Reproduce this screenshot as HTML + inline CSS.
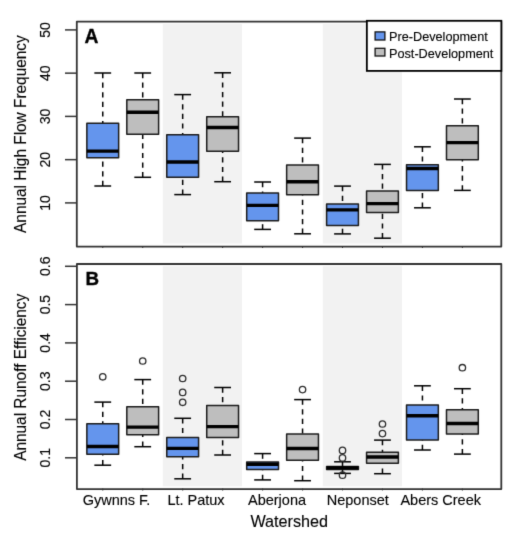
<!DOCTYPE html>
<html><head><meta charset="utf-8"><style>
html,body{margin:0;padding:0;background:#fff;width:520px;height:543px;overflow:hidden}
svg{display:block}
.wrap{width:520px;height:543px;will-change:transform}
</style></head><body><div class="wrap">
<svg width="520" height="543" viewBox="0 0 520 543" font-family='"Liberation Sans", sans-serif'>
<style>text{stroke:#000;stroke-width:0.12px;}</style>
<defs><filter id="bl" x="0" y="0" width="520" height="543" filterUnits="userSpaceOnUse" color-interpolation-filters="sRGB"><feConvolveMatrix order="3" kernelMatrix="0.01134 0.08382 0.01134 0.08382 0.61935 0.08382 0.01134 0.08382 0.01134" edgeMode="duplicate" preserveAlpha="true"/></filter></defs>
<g filter="url(#bl)">
<rect width="520" height="543" fill="#fff"/>
<!-- shading -->
<rect x="162.8" y="24" width="79.2" height="219.5" fill="#F2F2F2"/>
<rect x="322.8" y="24" width="79.2" height="219.5" fill="#F2F2F2"/>
<rect x="162.8" y="266.2" width="79.2" height="220.1" fill="#F2F2F2"/>
<rect x="322.8" y="266.2" width="79.2" height="220.1" fill="#F2F2F2"/>
<!-- panel A -->
<line x1="102.75" y1="73.00" x2="102.75" y2="123.35" stroke="#000" stroke-width="1.5" stroke-dasharray="5.2 4.4"/>
<line x1="102.75" y1="186.00" x2="102.75" y2="157.65" stroke="#000" stroke-width="1.5" stroke-dasharray="5.2 4.4"/>
<line x1="94.35" y1="73.00" x2="111.15" y2="73.00" stroke="#000" stroke-width="1.5"/>
<line x1="94.35" y1="186.00" x2="111.15" y2="186.00" stroke="#000" stroke-width="1.5"/>
<rect x="86.85" y="123.35" width="31.80" height="34.30" fill="#6495ED" stroke="#1c1c1c" stroke-width="1.5" stroke-linejoin="round"/>
<line x1="86.85" y1="151.10" x2="118.65" y2="151.10" stroke="#000" stroke-width="3.4"/>
<line x1="142.71" y1="73.00" x2="142.71" y2="99.85" stroke="#000" stroke-width="1.5" stroke-dasharray="5.2 4.4"/>
<line x1="142.71" y1="177.30" x2="142.71" y2="134.15" stroke="#000" stroke-width="1.5" stroke-dasharray="5.2 4.4"/>
<line x1="134.31" y1="73.00" x2="151.11" y2="73.00" stroke="#000" stroke-width="1.5"/>
<line x1="134.31" y1="177.30" x2="151.11" y2="177.30" stroke="#000" stroke-width="1.5"/>
<rect x="126.81" y="99.85" width="31.80" height="34.30" fill="#BEBEBE" stroke="#1c1c1c" stroke-width="1.5" stroke-linejoin="round"/>
<line x1="126.81" y1="112.30" x2="158.61" y2="112.30" stroke="#000" stroke-width="3.4"/>
<line x1="182.67" y1="94.60" x2="182.67" y2="134.65" stroke="#000" stroke-width="1.5" stroke-dasharray="5.2 4.4"/>
<line x1="182.67" y1="194.60" x2="182.67" y2="177.25" stroke="#000" stroke-width="1.5" stroke-dasharray="5.2 4.4"/>
<line x1="174.27" y1="94.60" x2="191.07" y2="94.60" stroke="#000" stroke-width="1.5"/>
<line x1="174.27" y1="194.60" x2="191.07" y2="194.60" stroke="#000" stroke-width="1.5"/>
<rect x="166.77" y="134.65" width="31.80" height="42.60" fill="#6495ED" stroke="#1c1c1c" stroke-width="1.5" stroke-linejoin="round"/>
<line x1="166.77" y1="162.00" x2="198.57" y2="162.00" stroke="#000" stroke-width="3.4"/>
<line x1="222.63" y1="72.80" x2="222.63" y2="116.75" stroke="#000" stroke-width="1.5" stroke-dasharray="5.2 4.4"/>
<line x1="222.63" y1="181.70" x2="222.63" y2="151.25" stroke="#000" stroke-width="1.5" stroke-dasharray="5.2 4.4"/>
<line x1="214.23" y1="72.80" x2="231.03" y2="72.80" stroke="#000" stroke-width="1.5"/>
<line x1="214.23" y1="181.70" x2="231.03" y2="181.70" stroke="#000" stroke-width="1.5"/>
<rect x="206.73" y="116.75" width="31.80" height="34.50" fill="#BEBEBE" stroke="#1c1c1c" stroke-width="1.5" stroke-linejoin="round"/>
<line x1="206.73" y1="127.50" x2="238.53" y2="127.50" stroke="#000" stroke-width="3.4"/>
<line x1="262.59" y1="182.00" x2="262.59" y2="193.05" stroke="#000" stroke-width="1.5" stroke-dasharray="5.2 4.4"/>
<line x1="262.59" y1="229.40" x2="262.59" y2="220.65" stroke="#000" stroke-width="1.5" stroke-dasharray="5.2 4.4"/>
<line x1="254.19" y1="182.00" x2="270.99" y2="182.00" stroke="#000" stroke-width="1.5"/>
<line x1="254.19" y1="229.40" x2="270.99" y2="229.40" stroke="#000" stroke-width="1.5"/>
<rect x="246.69" y="193.05" width="31.80" height="27.60" fill="#6495ED" stroke="#1c1c1c" stroke-width="1.5" stroke-linejoin="round"/>
<line x1="246.69" y1="205.40" x2="278.49" y2="205.40" stroke="#000" stroke-width="3.4"/>
<line x1="302.55" y1="138.10" x2="302.55" y2="164.95" stroke="#000" stroke-width="1.5" stroke-dasharray="5.2 4.4"/>
<line x1="302.55" y1="233.80" x2="302.55" y2="194.65" stroke="#000" stroke-width="1.5" stroke-dasharray="5.2 4.4"/>
<line x1="294.15" y1="138.10" x2="310.95" y2="138.10" stroke="#000" stroke-width="1.5"/>
<line x1="294.15" y1="233.80" x2="310.95" y2="233.80" stroke="#000" stroke-width="1.5"/>
<rect x="286.65" y="164.95" width="31.80" height="29.70" fill="#BEBEBE" stroke="#1c1c1c" stroke-width="1.5" stroke-linejoin="round"/>
<line x1="286.65" y1="181.80" x2="318.45" y2="181.80" stroke="#000" stroke-width="3.4"/>
<line x1="342.51" y1="186.10" x2="342.51" y2="204.05" stroke="#000" stroke-width="1.5" stroke-dasharray="5.2 4.4"/>
<line x1="342.51" y1="233.90" x2="342.51" y2="225.45" stroke="#000" stroke-width="1.5" stroke-dasharray="5.2 4.4"/>
<line x1="334.11" y1="186.10" x2="350.91" y2="186.10" stroke="#000" stroke-width="1.5"/>
<line x1="334.11" y1="233.90" x2="350.91" y2="233.90" stroke="#000" stroke-width="1.5"/>
<rect x="326.61" y="204.05" width="31.80" height="21.40" fill="#6495ED" stroke="#1c1c1c" stroke-width="1.5" stroke-linejoin="round"/>
<line x1="326.61" y1="209.90" x2="358.41" y2="209.90" stroke="#000" stroke-width="3.4"/>
<line x1="382.47" y1="164.40" x2="382.47" y2="191.05" stroke="#000" stroke-width="1.5" stroke-dasharray="5.2 4.4"/>
<line x1="382.47" y1="238.20" x2="382.47" y2="212.45" stroke="#000" stroke-width="1.5" stroke-dasharray="5.2 4.4"/>
<line x1="374.07" y1="164.40" x2="390.87" y2="164.40" stroke="#000" stroke-width="1.5"/>
<line x1="374.07" y1="238.20" x2="390.87" y2="238.20" stroke="#000" stroke-width="1.5"/>
<rect x="366.57" y="191.05" width="31.80" height="21.40" fill="#BEBEBE" stroke="#1c1c1c" stroke-width="1.5" stroke-linejoin="round"/>
<line x1="366.57" y1="203.60" x2="398.37" y2="203.60" stroke="#000" stroke-width="3.4"/>
<line x1="422.43" y1="146.80" x2="422.43" y2="164.75" stroke="#000" stroke-width="1.5" stroke-dasharray="5.2 4.4"/>
<line x1="422.43" y1="207.80" x2="422.43" y2="190.45" stroke="#000" stroke-width="1.5" stroke-dasharray="5.2 4.4"/>
<line x1="414.03" y1="146.80" x2="430.83" y2="146.80" stroke="#000" stroke-width="1.5"/>
<line x1="414.03" y1="207.80" x2="430.83" y2="207.80" stroke="#000" stroke-width="1.5"/>
<rect x="406.53" y="164.75" width="31.80" height="25.70" fill="#6495ED" stroke="#1c1c1c" stroke-width="1.5" stroke-linejoin="round"/>
<line x1="406.53" y1="168.50" x2="438.33" y2="168.50" stroke="#000" stroke-width="3.4"/>
<line x1="462.39" y1="99.00" x2="462.39" y2="125.65" stroke="#000" stroke-width="1.5" stroke-dasharray="5.2 4.4"/>
<line x1="462.39" y1="190.40" x2="462.39" y2="159.65" stroke="#000" stroke-width="1.5" stroke-dasharray="5.2 4.4"/>
<line x1="453.99" y1="99.00" x2="470.79" y2="99.00" stroke="#000" stroke-width="1.5"/>
<line x1="453.99" y1="190.40" x2="470.79" y2="190.40" stroke="#000" stroke-width="1.5"/>
<rect x="446.49" y="125.65" width="31.80" height="34.00" fill="#BEBEBE" stroke="#1c1c1c" stroke-width="1.5" stroke-linejoin="round"/>
<line x1="446.49" y1="142.60" x2="478.29" y2="142.60" stroke="#000" stroke-width="3.4"/>
<rect x="76.8" y="21.6" width="424.5" height="225" fill="none" stroke="#333" stroke-width="1.8" stroke-linejoin="round"/>
<line x1="65" y1="202.90" x2="77" y2="202.90" stroke="#333" stroke-width="1.5"/>
<text transform="translate(49.7 202.90) rotate(-90)" text-anchor="middle" font-size="14">10</text>
<line x1="65" y1="159.65" x2="77" y2="159.65" stroke="#333" stroke-width="1.5"/>
<text transform="translate(49.7 159.65) rotate(-90)" text-anchor="middle" font-size="14">20</text>
<line x1="65" y1="116.40" x2="77" y2="116.40" stroke="#333" stroke-width="1.5"/>
<text transform="translate(49.7 116.40) rotate(-90)" text-anchor="middle" font-size="14">30</text>
<line x1="65" y1="73.15" x2="77" y2="73.15" stroke="#333" stroke-width="1.5"/>
<text transform="translate(49.7 73.15) rotate(-90)" text-anchor="middle" font-size="14">40</text>
<line x1="65" y1="29.90" x2="77" y2="29.90" stroke="#333" stroke-width="1.5"/>
<text transform="translate(49.7 29.90) rotate(-90)" text-anchor="middle" font-size="14">50</text>
<text transform="translate(25.6 134.10) rotate(-90) scale(1 1.07)" text-anchor="middle" font-size="15.4">Annual High Flow Frequency</text>
<text x="84.4" y="42.9" font-size="19.3" font-weight="bold" style="stroke-width:0.35px">A</text>
<!-- legend -->
<rect x="366.85" y="20.8" width="134.5" height="50.1" fill="#fff" stroke="#000" stroke-width="1.8"/>
<rect x="375.1" y="31.9" width="9.8" height="8.1" fill="#6495ED" stroke="#111" stroke-width="1.3"/>
<rect x="375.1" y="48.3" width="9.8" height="7.7" fill="#BEBEBE" stroke="#111" stroke-width="1.3"/>
<text x="389.0" y="40.7" font-size="12.7">Pre-Development</text>
<text x="389.0" y="57.5" font-size="12.7">Post-Development</text>
<!-- panel B -->
<line x1="102.75" y1="402.10" x2="102.75" y2="423.85" stroke="#000" stroke-width="1.5" stroke-dasharray="5.2 4.4"/>
<line x1="102.75" y1="465.20" x2="102.75" y2="454.25" stroke="#000" stroke-width="1.5" stroke-dasharray="5.2 4.4"/>
<line x1="94.35" y1="402.10" x2="111.15" y2="402.10" stroke="#000" stroke-width="1.5"/>
<line x1="94.35" y1="465.20" x2="111.15" y2="465.20" stroke="#000" stroke-width="1.5"/>
<rect x="86.85" y="423.85" width="31.80" height="30.40" fill="#6495ED" stroke="#1c1c1c" stroke-width="1.5" stroke-linejoin="round"/>
<line x1="86.85" y1="446.50" x2="118.65" y2="446.50" stroke="#000" stroke-width="3.4"/>
<circle cx="102.75" cy="376.80" r="3.2" fill="none" stroke="#2a2a2a" stroke-width="1.3"/>
<line x1="142.71" y1="379.60" x2="142.71" y2="406.65" stroke="#000" stroke-width="1.5" stroke-dasharray="5.2 4.4"/>
<line x1="142.71" y1="446.70" x2="142.71" y2="434.65" stroke="#000" stroke-width="1.5" stroke-dasharray="5.2 4.4"/>
<line x1="134.31" y1="379.60" x2="151.11" y2="379.60" stroke="#000" stroke-width="1.5"/>
<line x1="134.31" y1="446.70" x2="151.11" y2="446.70" stroke="#000" stroke-width="1.5"/>
<rect x="126.81" y="406.65" width="31.80" height="28.00" fill="#BEBEBE" stroke="#1c1c1c" stroke-width="1.5" stroke-linejoin="round"/>
<line x1="126.81" y1="427.10" x2="158.61" y2="427.10" stroke="#000" stroke-width="3.4"/>
<circle cx="142.71" cy="361.00" r="3.2" fill="none" stroke="#2a2a2a" stroke-width="1.3"/>
<line x1="182.67" y1="418.30" x2="182.67" y2="437.45" stroke="#000" stroke-width="1.5" stroke-dasharray="5.2 4.4"/>
<line x1="182.67" y1="478.80" x2="182.67" y2="456.65" stroke="#000" stroke-width="1.5" stroke-dasharray="5.2 4.4"/>
<line x1="174.27" y1="418.30" x2="191.07" y2="418.30" stroke="#000" stroke-width="1.5"/>
<line x1="174.27" y1="478.80" x2="191.07" y2="478.80" stroke="#000" stroke-width="1.5"/>
<rect x="166.77" y="437.45" width="31.80" height="19.20" fill="#6495ED" stroke="#1c1c1c" stroke-width="1.5" stroke-linejoin="round"/>
<line x1="166.77" y1="448.40" x2="198.57" y2="448.40" stroke="#000" stroke-width="3.4"/>
<circle cx="182.67" cy="378.50" r="3.2" fill="none" stroke="#2a2a2a" stroke-width="1.3"/>
<circle cx="182.67" cy="392.40" r="3.2" fill="none" stroke="#2a2a2a" stroke-width="1.3"/>
<circle cx="182.67" cy="402.30" r="3.2" fill="none" stroke="#2a2a2a" stroke-width="1.3"/>
<line x1="222.63" y1="387.50" x2="222.63" y2="405.55" stroke="#000" stroke-width="1.5" stroke-dasharray="5.2 4.4"/>
<line x1="222.63" y1="455.00" x2="222.63" y2="437.55" stroke="#000" stroke-width="1.5" stroke-dasharray="5.2 4.4"/>
<line x1="214.23" y1="387.50" x2="231.03" y2="387.50" stroke="#000" stroke-width="1.5"/>
<line x1="214.23" y1="455.00" x2="231.03" y2="455.00" stroke="#000" stroke-width="1.5"/>
<rect x="206.73" y="405.55" width="31.80" height="32.00" fill="#BEBEBE" stroke="#1c1c1c" stroke-width="1.5" stroke-linejoin="round"/>
<line x1="206.73" y1="426.60" x2="238.53" y2="426.60" stroke="#000" stroke-width="3.4"/>
<line x1="262.59" y1="453.60" x2="262.59" y2="462.05" stroke="#000" stroke-width="1.5" stroke-dasharray="5.2 4.4"/>
<line x1="262.59" y1="479.90" x2="262.59" y2="469.45" stroke="#000" stroke-width="1.5" stroke-dasharray="5.2 4.4"/>
<line x1="254.19" y1="453.60" x2="270.99" y2="453.60" stroke="#000" stroke-width="1.5"/>
<line x1="254.19" y1="479.90" x2="270.99" y2="479.90" stroke="#000" stroke-width="1.5"/>
<rect x="246.69" y="462.05" width="31.80" height="7.40" fill="#6495ED" stroke="#1c1c1c" stroke-width="1.5" stroke-linejoin="round"/>
<line x1="246.69" y1="464.20" x2="278.49" y2="464.20" stroke="#000" stroke-width="3.4"/>
<line x1="302.55" y1="399.60" x2="302.55" y2="433.95" stroke="#000" stroke-width="1.5" stroke-dasharray="5.2 4.4"/>
<line x1="302.55" y1="480.70" x2="302.55" y2="460.25" stroke="#000" stroke-width="1.5" stroke-dasharray="5.2 4.4"/>
<line x1="294.15" y1="399.60" x2="310.95" y2="399.60" stroke="#000" stroke-width="1.5"/>
<line x1="294.15" y1="480.70" x2="310.95" y2="480.70" stroke="#000" stroke-width="1.5"/>
<rect x="286.65" y="433.95" width="31.80" height="26.30" fill="#BEBEBE" stroke="#1c1c1c" stroke-width="1.5" stroke-linejoin="round"/>
<line x1="286.65" y1="448.50" x2="318.45" y2="448.50" stroke="#000" stroke-width="3.4"/>
<circle cx="302.55" cy="389.60" r="3.2" fill="none" stroke="#2a2a2a" stroke-width="1.3"/>
<line x1="342.51" y1="461.80" x2="342.51" y2="466.55" stroke="#000" stroke-width="1.5" stroke-dasharray="5.2 4.4"/>
<line x1="342.51" y1="473.40" x2="342.51" y2="469.55" stroke="#000" stroke-width="1.5" stroke-dasharray="5.2 4.4"/>
<line x1="334.11" y1="461.80" x2="350.91" y2="461.80" stroke="#000" stroke-width="1.5"/>
<line x1="334.11" y1="473.40" x2="350.91" y2="473.40" stroke="#000" stroke-width="1.5"/>
<rect x="326.61" y="466.55" width="31.80" height="3.00" fill="#6495ED" stroke="#1c1c1c" stroke-width="1.5" stroke-linejoin="round"/>
<line x1="326.61" y1="467.80" x2="358.41" y2="467.80" stroke="#000" stroke-width="3.4"/>
<circle cx="342.51" cy="450.40" r="3.2" fill="none" stroke="#2a2a2a" stroke-width="1.3"/>
<circle cx="342.51" cy="457.90" r="3.2" fill="none" stroke="#2a2a2a" stroke-width="1.3"/>
<circle cx="342.51" cy="475.20" r="3.2" fill="none" stroke="#2a2a2a" stroke-width="1.3"/>
<line x1="382.47" y1="440.10" x2="382.47" y2="452.25" stroke="#000" stroke-width="1.5" stroke-dasharray="5.2 4.4"/>
<line x1="382.47" y1="473.70" x2="382.47" y2="463.25" stroke="#000" stroke-width="1.5" stroke-dasharray="5.2 4.4"/>
<line x1="374.07" y1="440.10" x2="390.87" y2="440.10" stroke="#000" stroke-width="1.5"/>
<line x1="374.07" y1="473.70" x2="390.87" y2="473.70" stroke="#000" stroke-width="1.5"/>
<rect x="366.57" y="452.25" width="31.80" height="11.00" fill="#BEBEBE" stroke="#1c1c1c" stroke-width="1.5" stroke-linejoin="round"/>
<line x1="366.57" y1="457.00" x2="398.37" y2="457.00" stroke="#000" stroke-width="3.4"/>
<circle cx="382.47" cy="424.00" r="3.2" fill="none" stroke="#2a2a2a" stroke-width="1.3"/>
<circle cx="382.47" cy="433.60" r="3.2" fill="none" stroke="#2a2a2a" stroke-width="1.3"/>
<line x1="422.43" y1="385.80" x2="422.43" y2="404.95" stroke="#000" stroke-width="1.5" stroke-dasharray="5.2 4.4"/>
<line x1="422.43" y1="450.00" x2="422.43" y2="439.95" stroke="#000" stroke-width="1.5" stroke-dasharray="5.2 4.4"/>
<line x1="414.03" y1="385.80" x2="430.83" y2="385.80" stroke="#000" stroke-width="1.5"/>
<line x1="414.03" y1="450.00" x2="430.83" y2="450.00" stroke="#000" stroke-width="1.5"/>
<rect x="406.53" y="404.95" width="31.80" height="35.00" fill="#6495ED" stroke="#1c1c1c" stroke-width="1.5" stroke-linejoin="round"/>
<line x1="406.53" y1="415.70" x2="438.33" y2="415.70" stroke="#000" stroke-width="3.4"/>
<line x1="462.39" y1="388.70" x2="462.39" y2="409.75" stroke="#000" stroke-width="1.5" stroke-dasharray="5.2 4.4"/>
<line x1="462.39" y1="454.10" x2="462.39" y2="433.95" stroke="#000" stroke-width="1.5" stroke-dasharray="5.2 4.4"/>
<line x1="453.99" y1="388.70" x2="470.79" y2="388.70" stroke="#000" stroke-width="1.5"/>
<line x1="453.99" y1="454.10" x2="470.79" y2="454.10" stroke="#000" stroke-width="1.5"/>
<rect x="446.49" y="409.75" width="31.80" height="24.20" fill="#BEBEBE" stroke="#1c1c1c" stroke-width="1.5" stroke-linejoin="round"/>
<line x1="446.49" y1="423.50" x2="478.29" y2="423.50" stroke="#000" stroke-width="3.4"/>
<circle cx="462.39" cy="367.70" r="3.2" fill="none" stroke="#2a2a2a" stroke-width="1.3"/>
<rect x="76.9" y="264" width="424.4" height="225.1" fill="none" stroke="#333" stroke-width="1.8" stroke-linejoin="round"/>
<line x1="65" y1="457.80" x2="77" y2="457.80" stroke="#333" stroke-width="1.5"/>
<text transform="translate(49.7 457.80) rotate(-90)" text-anchor="middle" font-size="14">0.1</text>
<line x1="65" y1="419.50" x2="77" y2="419.50" stroke="#333" stroke-width="1.5"/>
<text transform="translate(49.7 419.50) rotate(-90)" text-anchor="middle" font-size="14">0.2</text>
<line x1="65" y1="381.20" x2="77" y2="381.20" stroke="#333" stroke-width="1.5"/>
<text transform="translate(49.7 381.20) rotate(-90)" text-anchor="middle" font-size="14">0.3</text>
<line x1="65" y1="342.90" x2="77" y2="342.90" stroke="#333" stroke-width="1.5"/>
<text transform="translate(49.7 342.90) rotate(-90)" text-anchor="middle" font-size="14">0.4</text>
<line x1="65" y1="304.60" x2="77" y2="304.60" stroke="#333" stroke-width="1.5"/>
<text transform="translate(49.7 304.60) rotate(-90)" text-anchor="middle" font-size="14">0.5</text>
<line x1="65" y1="266.30" x2="77" y2="266.30" stroke="#333" stroke-width="1.5"/>
<text transform="translate(49.7 266.30) rotate(-90)" text-anchor="middle" font-size="14">0.6</text>
<text transform="translate(25.6 377.30) rotate(-90) scale(1 1.07)" text-anchor="middle" font-size="15.4">Annual Runoff Efficiency</text>
<text x="85.6" y="284.8" font-size="18.8" font-weight="bold" style="stroke-width:0.35px">B</text>
<line x1="102.75" y1="488.5" x2="102.75" y2="490.4" stroke="#333" stroke-width="1.1"/><line x1="102.75" y1="246.5" x2="102.75" y2="248.0" stroke="#333" stroke-width="1.0"/><line x1="142.71" y1="488.5" x2="142.71" y2="490.4" stroke="#333" stroke-width="1.1"/><line x1="142.71" y1="246.5" x2="142.71" y2="248.0" stroke="#333" stroke-width="1.0"/><line x1="182.67" y1="488.5" x2="182.67" y2="490.4" stroke="#333" stroke-width="1.1"/><line x1="182.67" y1="246.5" x2="182.67" y2="248.0" stroke="#333" stroke-width="1.0"/><line x1="222.63" y1="488.5" x2="222.63" y2="490.4" stroke="#333" stroke-width="1.1"/><line x1="222.63" y1="246.5" x2="222.63" y2="248.0" stroke="#333" stroke-width="1.0"/><line x1="262.59" y1="488.5" x2="262.59" y2="490.4" stroke="#333" stroke-width="1.1"/><line x1="262.59" y1="246.5" x2="262.59" y2="248.0" stroke="#333" stroke-width="1.0"/><line x1="302.55" y1="488.5" x2="302.55" y2="490.4" stroke="#333" stroke-width="1.1"/><line x1="302.55" y1="246.5" x2="302.55" y2="248.0" stroke="#333" stroke-width="1.0"/><line x1="342.51" y1="488.5" x2="342.51" y2="490.4" stroke="#333" stroke-width="1.1"/><line x1="342.51" y1="246.5" x2="342.51" y2="248.0" stroke="#333" stroke-width="1.0"/><line x1="382.47" y1="488.5" x2="382.47" y2="490.4" stroke="#333" stroke-width="1.1"/><line x1="382.47" y1="246.5" x2="382.47" y2="248.0" stroke="#333" stroke-width="1.0"/><line x1="422.43" y1="488.5" x2="422.43" y2="490.4" stroke="#333" stroke-width="1.1"/><line x1="422.43" y1="246.5" x2="422.43" y2="248.0" stroke="#333" stroke-width="1.0"/><line x1="462.39" y1="488.5" x2="462.39" y2="490.4" stroke="#333" stroke-width="1.1"/><line x1="462.39" y1="246.5" x2="462.39" y2="248.0" stroke="#333" stroke-width="1.0"/>
<text x="116.55" y="505.2" text-anchor="middle" font-size="14.5">Gywnns F.</text><text x="196.0" y="505.2" text-anchor="middle" font-size="14.5">Lt. Patux</text><text x="277.0" y="505.2" text-anchor="middle" font-size="14.5">Aberjona</text><text x="357.8" y="505.2" text-anchor="middle" font-size="14.5">Neponset</text><text x="440.7" y="505.2" text-anchor="middle" font-size="14.5">Abers Creek</text>
<text x="289.25" y="526.6" text-anchor="middle" font-size="16.2">Watershed</text>
</g>
</svg>
</div></body></html>
